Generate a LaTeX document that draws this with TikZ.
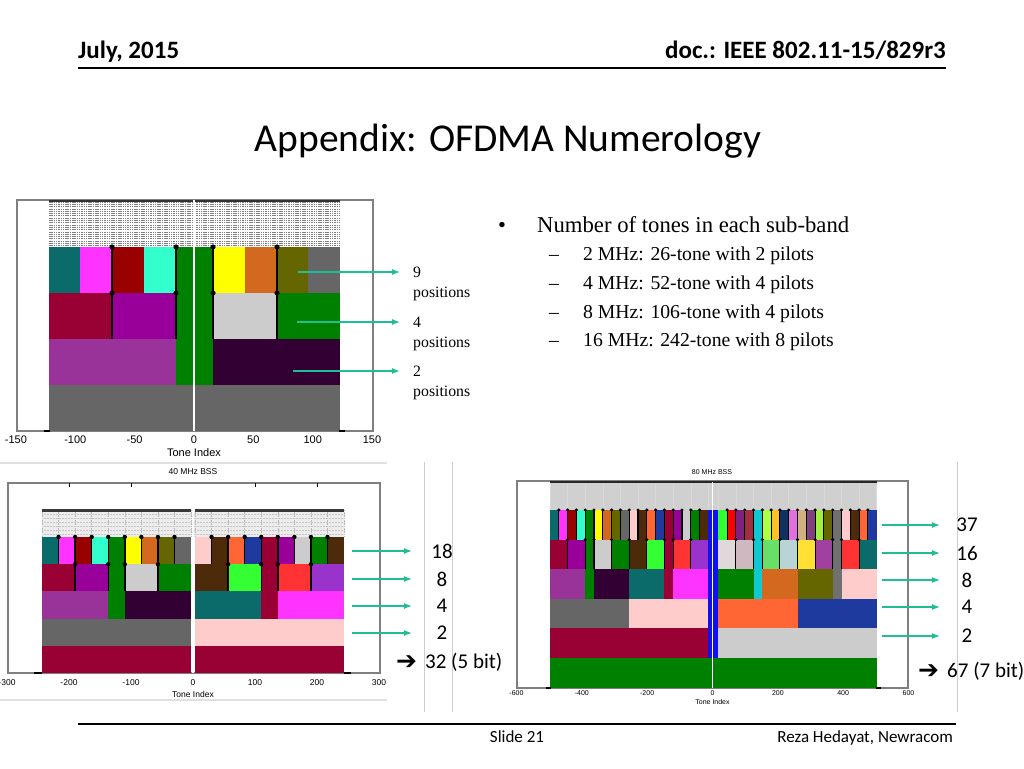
\documentclass[tikz,border=0pt]{standalone}
\usepackage{fontspec}
\setmainfont{Liberation Serif}
\newfontfamily\calib{Carlito}
\newfontfamily\arialf{Liberation Sans}
\newfontfamily\symf{DejaVu Sans}
\usetikzlibrary{arrows.meta}

\definecolor{cTeal}{HTML}{0B6B6B}
\definecolor{cMag}{HTML}{FF33FF}
\definecolor{cDRed}{HTML}{990000}
\definecolor{cAqua}{HTML}{33FFCC}
\definecolor{cGreen}{HTML}{008000}
\definecolor{cYel}{HTML}{FFFF00}
\definecolor{cOra}{HTML}{D2691E}
\definecolor{cOli}{HTML}{666600}
\definecolor{cGray}{HTML}{666666}
\definecolor{cPink}{HTML}{FFCCCC}
\definecolor{cBrn}{HTML}{4D2A0A}
\definecolor{cTom}{HTML}{FF6633}
\definecolor{cBlu}{HTML}{1F3A9E}
\definecolor{cCrim}{HTML}{990033}
\definecolor{cPur}{HTML}{990099}
\definecolor{cLGr}{HTML}{CCCCCC}
\definecolor{cLime}{HTML}{33FF33}
\definecolor{cRed}{HTML}{FF3333}
\definecolor{cMPur}{HTML}{9933CC}
\definecolor{cOrch}{HTML}{993399}
\definecolor{cDPur}{HTML}{330033}
\definecolor{cRedII}{HTML}{FF0000}
\definecolor{cPlum}{HTML}{802080}
\definecolor{cBrRed}{HTML}{A03040}
\definecolor{cCyan}{HTML}{10C8D0}
\definecolor{cGYel}{HTML}{B0FF40}
\definecolor{cGold}{HTML}{FFC030}
\definecolor{cNavy}{HTML}{103060}
\definecolor{cViol}{HTML}{E070E0}
\definecolor{cTan}{HTML}{D0B080}
\definecolor{cPurII}{HTML}{804080}
\definecolor{cYGrn}{HTML}{A0F040}
\definecolor{cGrayII}{HTML}{707070}
\definecolor{cRose}{HTML}{E0D8DA}
\definecolor{cMauv}{HTML}{D0B8C0}
\definecolor{cLGrn}{HTML}{66E066}
\definecolor{cPale}{HTML}{B8D4D4}
\definecolor{cSun}{HTML}{FFE033}
\definecolor{cPurIII}{HTML}{A040A0}
\definecolor{cBBlu}{HTML}{1010F0}
\definecolor{cTop}{HTML}{D0D0D0}
\definecolor{cArr}{HTML}{1FBF95}
\definecolor{cBox}{HTML}{7F7F7F}
\definecolor{cFrame}{HTML}{E0E0E0}

\begin{document}
\begin{tikzpicture}[x=1pt,y=-1pt,
  garrow/.style={draw=cArr,line width=1.4pt,-{Latex[length=8pt,width=6pt]}},
  sepline/.style={line width=1.6pt},
  axbox/.style={draw=cBox,line width=1.4pt},
  hatchl/.style={draw=gray,line width=0.7pt,dash pattern=on 1.5pt off 0.8pt},
  tickI/.style={font=\arialf\fontsize{11}{11}\selectfont,inner sep=0pt},
  tickII/.style={font=\arialf\fontsize{8.5}{8.5}\selectfont,inner sep=0pt},
  tickIII/.style={font=\arialf\fontsize{7}{7}\selectfont,inner sep=0pt},
  poslbl/.style={font=\fontsize{15.8}{16}\selectfont,inner sep=0pt,anchor=base west},
  cntlbl/.style={font=\calib\fontsize{21}{21}\selectfont,inner sep=0pt},
  bigarr/.style={font=\symf\fontsize{25}{25}\selectfont,inner sep=0pt,anchor=base west},
  subitem/.style={font=\fontsize{19.7}{20}\selectfont,inner sep=0pt,anchor=base west}]
\useasboundingbox (0,0) rectangle (1024,768);
\fill[white] (0,0) rectangle (1024,768);

% header and footer
\node[font=\calib\bfseries\fontsize{25}{25}\selectfont,anchor=base west,inner sep=0pt] (hdate) at (78,59) {July, 2015};
\node[font=\calib\bfseries\fontsize{25}{25}\selectfont,anchor=base east,inner sep=0pt] (hdoc) at (946,59) {doc.: IEEE 802.11-15/829r3};
\draw[line width=1.5pt] (78,68) -- (946,68);
\node[font=\calib\fontsize{39.5}{40}\selectfont,anchor=base,inner sep=0pt] (title) at (508,151) {Appendix: OFDMA Numerology};
\draw[line width=1.5pt] (78,724) -- (956,724);
\node[font=\calib\fontsize{17}{17}\selectfont,anchor=base,inner sep=0pt] (fslide) at (517,742) {Slide 21};
\node[font=\calib\fontsize{17}{17}\selectfont,anchor=base east,inner sep=0pt] (fauthor) at (953,742) {Reza Hedayat, Newracom};

% bullet list
\node[font=\fontsize{22.5}{23}\selectfont,anchor=base,inner sep=0pt] (bullet) at (502,232) {•};
\node[font=\fontsize{22.7}{23}\selectfont,anchor=base west,inner sep=0pt] (bhead) at (537,232) {Number of tones in each sub-band};
\foreach \txt [count=\k] in {2 MHz: 26-tone with 2 pilots,4 MHz: 52-tone with 4 pilots,8 MHz: 106-tone with 4 pilots,16 MHz: 242-tone with 8 pilots}{
  \node[subitem] (dash\k) at (549,{232+\k*28.7}) {--};
  \node[subitem] (item\k) at (583,{232+\k*28.7}) {\txt};
}

% thin frame lines of the pasted plots
\draw[cFrame,line width=1.2pt] (0,463) -- (387,463);
\draw[cFrame,line width=1.2pt] (0,700) -- (387,700);
\foreach \xx in {424,452,957}
  \draw[cFrame!80!gray,line width=1pt] (\xx,462) -- (\xx,712);

% ---------------- 20 MHz plot ----------------
\draw[axbox] (17,200) rectangle (373,431);
\foreach \y in {202,204.3,...,246}
  \draw[hatchl] (49,\y) -- (340,\y);
\draw[line width=1.5pt,gray!40!black] (49,201) -- (340,201);
% 26-tone row
\foreach \a/\b/\c in {49/80/cTeal,80/112/cMag,112/144/cDRed,144/176/cAqua,213/245/cYel,245/277/cOra,277/308/cOli,308/340/cGray}
  \fill[fill=\c] (\a,247) rectangle (\b,293);
\fill[cGreen] (176,247) rectangle (213,385);
% 52-tone row
\foreach \a/\b/\c in {49/112/cCrim,112/176/cPur,213/277/cLGr,277/340/cGreen}
  \fill[fill=\c] (\a,293) rectangle (\b,339);
% 106-tone row
\fill[cOrch] (49,339) rectangle (176,385);
\fill[cDPur] (213,339) rectangle (340,385);
% 242-tone row
\fill[cGray] (49,385) rectangle (340,431);
\draw[white,line width=2.5pt] (194,200) -- (194,431);
\foreach \xx in {112,176,213,277}{
  \draw[sepline] (\xx,247) -- (\xx,339);
  \fill (\xx,247) circle (2.6);
  \fill (\xx,293) circle (2.6);
}
\draw[line width=2.5pt] (44,431) -- (50,431);
\draw[line width=2.5pt] (339,431) -- (345,431);
\foreach \t [count=\k] in {-150,-100,-50,0,50,100,150}
  \node[tickI] (tka\k) at ({194+\t*1.187},440) {\t};
\node[tickI] (xlabI) at (194,453) {Tone Index};

\foreach \yy/\nn/\lab in {272/9/nine,322/4/four,371/2/two}{
  \node[poslbl] (n\lab) at (413,{\yy+5}) {\nn};
  \node[poslbl] (p\lab) at (413,{\yy+25}) {positions};
}
\coordinate (snine) at (298,272);
\coordinate (sfour) at (297,322);
\coordinate (stwo) at (293,371);
\foreach \lab in {nine,four,two}
  \draw[garrow,shorten >=13pt] (s\lab) -- (s\lab -| n\lab.west);

% ---------------- 40 MHz plot ----------------
\node[tickII] (ttlII) at (193,472) {40 MHz BSS};
\draw[axbox,line width=1.2pt] (8,483) rectangle (380,673);
\foreach \xx in {69,131,255,317}
  \draw[line width=1pt] (\xx,483) -- (\xx,487);
\fill[gray!15] (42,510) rectangle (344,537);
\foreach \h in {0,1}
  \foreach \i in {0,...,9}
    \draw[gray!55,densely dotted,line width=0.6pt] ({42+\h*153+\i*16.56},510) -- ({42+\h*153+\i*16.56},537);
\foreach \y in {514,518,...,534}
  \draw[gray!45,densely dotted,line width=0.5pt] (42,\y) -- (344,\y);
\draw[line width=3pt,gray!45!black] (42,510) -- (191,510);
\draw[line width=3pt,gray!45!black] (195,510) -- (344,510);
% 26-tone row
\foreach \c [count=\i from 0] in {cTeal,cMag,cDRed,cAqua,cGreen,cYel,cOra,cOli,cGray}
  \fill[fill=\c] ({42+\i*16.56},537) rectangle ++(16.56,27.2);
\foreach \c [count=\i from 0] in {cPink,cBrn,cTom,cBlu,cCrim,cPur,cLGr,cGreen,cBrn}
  \fill[fill=\c] ({195+\i*16.56},537) rectangle ++(16.56,27.2);
% wider units
\foreach \h/\a/\b/\r/\c in {
  0/0/2/2/cCrim,0/2/4/2/cPur,0/4/5/2/cGreen,0/5/7/2/cLGr,0/7/9/2/cGreen,
  1/0/2/2/cBrn,1/2/4/2/cLime,1/4/5/2/cCrim,1/5/7/2/cRed,1/7/9/2/cMPur,
  0/0/4/3/cOrch,0/4/5/3/cGreen,0/5/9/3/cDPur,
  1/0/4/3/cTeal,1/4/5/3/cCrim,1/5/9/3/cMag,
  0/0/9/4/cGray,1/0/9/4/cPink,
  0/0/9/5/cCrim,1/0/9/5/cCrim}
  \fill[fill=\c] ({42+\h*153+\a*16.56},{537+(\r-1)*27.2}) rectangle ({42+\h*153+\b*16.56},{537+\r*27.2});
\draw[white,line width=2pt] (193,505) -- (193,673);
\foreach \h in {0,1}{
  \foreach \i in {1,...,8}{
    \draw[sepline,line width=1.4pt] ({42+\h*153+\i*16.56},537) -- ++(0,27.2);
    \fill ({42+\h*153+\i*16.56},537) circle (2.2);
  }
  \foreach \i in {2,4,5,7}{
    \draw[sepline,line width=1.4pt] ({42+\h*153+\i*16.56},564.2) -- ++(0,27.2);
    \fill ({42+\h*153+\i*16.56},564.2) circle (2.2);
  }
}
\draw[line width=2.5pt] (34,673) -- (42,673);
\draw[line width=2.5pt] (344,673) -- (351,673);
\foreach \t [count=\k] in {-300,-200,-100,0,100,200,300}
  \node[tickII] (tkb\k) at ({193+\t*0.62},683) {\t};
\node[tickII] (xlabII) at (193,694) {Tone Index};

\foreach \yy/\nn in {551/18,579/8,606/4,633/2}{
  \node[cntlbl] (l\nn) at (442,\yy) {\nn};
  \coordinate (s\nn) at (352,\yy);
  \draw[garrow,shorten >=30pt] (s\nn) -- (s\nn -| l\nn.center);
}
\node[bigarr] (arrII) at (396,669) {➔};
\node[cntlbl,anchor=base west] (totII) at (425,668) {32 (5 bit)};

% ---------------- 80 MHz plot ----------------
\node[tickIII] (ttlIII) at (712,472) {80 MHz BSS};
\draw[axbox,line width=1.2pt] (517,481) rectangle (908,688);
\foreach \xx in {582,647,778,843}
  \draw[line width=0.8pt] (\xx,481) -- (\xx,484);
\fill[cTop] (550,482) rectangle (877,510);
\foreach \h in {0,1}
  \foreach \i in {0,2,...,18}
    \draw[gray!30,line width=0.5pt] ({550+\h*168.3+\i*8.8},484) -- ({550+\h*168.3+\i*8.8},510);
\draw[line width=2.5pt,gray!30!black] (550,482) -- (877,482);
% 26-tone row
\foreach \c [count=\i from 0] in {cTeal,cMag,cDRed,cAqua,cGreen,cYel,cOra,cOli,cGray,cPink,cBrn,cTom,cBlu,cCrim,cPur,cLGr,cGreen,cBrn}
  \fill[fill=\c] ({550+\i*8.8},510) rectangle ++(8.8,29.6);
\foreach \c [count=\i from 0] in {cLime,cRedII,cPlum,cBrRed,cCyan,cGYel,cGold,cNavy,cViol,cTan,cPurII,cYGrn,cOli,cGrayII,cPink,cBrn,cTom,cBlu}
  \fill[fill=\c] ({718.3+\i*8.8},510) rectangle ++(8.8,29.6);
% wider units
\foreach \h/\a/\b/\r/\c in {
  0/0/2/2/cCrim,0/2/4/2/cPur,0/4/5/2/cGreen,0/5/7/2/cLGr,0/7/9/2/cGreen,
  0/9/11/2/cBrn,0/11/13/2/cLime,0/13/14/2/cCrim,0/14/16/2/cRed,0/16/18/2/cMPur,
  1/0/2/2/cRose,1/2/4/2/cMauv,1/4/5/2/cCyan,1/5/7/2/cLGrn,1/7/9/2/cPale,
  1/9/11/2/cSun,1/11/13/2/cPurIII,1/13/14/2/cGrayII,1/14/16/2/cRed,1/16/18/2/cTeal,
  0/0/4/3/cOrch,0/4/5/3/cGreen,0/5/9/3/cDPur,0/9/13/3/cTeal,0/13/14/3/cCrim,0/14/18/3/cMag,
  1/0/4/3/cGreen,1/4/5/3/cCyan,1/5/9/3/cOra,1/9/13/3/cOli,1/13/14/3/cGrayII,1/14/18/3/cPink,
  0/0/9/4/cGray,0/9/18/4/cPink,1/0/9/4/cTom,1/9/18/4/cBlu,
  0/0/18/5/cCrim,1/0/18/5/cLGr}
  \fill[fill=\c] ({550+\h*168.3+\a*8.8},{510+(\r-1)*29.6}) rectangle ({550+\h*168.3+\b*8.8},{510+\r*29.6});
\fill[cBBlu] (708.3,510) rectangle (718.3,658);
\fill[cGreen] (550,658) rectangle (877,688);
\draw[white,line width=1.5pt] (712.5,482) -- (712.5,688);
\foreach \h in {0,1}{
  \foreach \i in {1,...,17}{
    \draw[sepline,line width=1.1pt] ({550+\h*168.3+\i*8.8},510) -- ++(0,29.6);
    \fill ({550+\h*168.3+\i*8.8},510) circle (1.7);
  }
  \foreach \i in {2,4,5,7,9,11,13,14,16}{
    \draw[sepline,line width=1.1pt] ({550+\h*168.3+\i*8.8},539.6) -- ++(0,29.6);
    \fill ({550+\h*168.3+\i*8.8},539.6) circle (1.7);
  }
}
\draw[line width=2pt] (546,688) -- (551,688);
\draw[line width=2pt] (876,688) -- (881,688);
\foreach \t [count=\k] in {-600,-400,-200,0,200,400,600}
  \node[tickIII] (tkc\k) at ({712.5+\t*0.3267},693) {\t};
\node[tickIII] (xlabIII) at (712.5,702) {Tone Index};

\foreach \yy/\nn/\lab in {525/37/a,553/16/b,580/8/c,607/4/d,636/2/e}{
  \node[cntlbl] (m\lab) at (967,\yy) {\nn};
  \coordinate (r\lab) at (882,\yy);
  \draw[garrow,shorten >=27pt] (r\lab) -- (r\lab -| m\lab.center);
}
\node[bigarr] (arrIII) at (918,678) {➔};
\node[cntlbl,anchor=base west] (totIII) at (947,677) {67 (7 bit)};
\end{tikzpicture}
\end{document}
